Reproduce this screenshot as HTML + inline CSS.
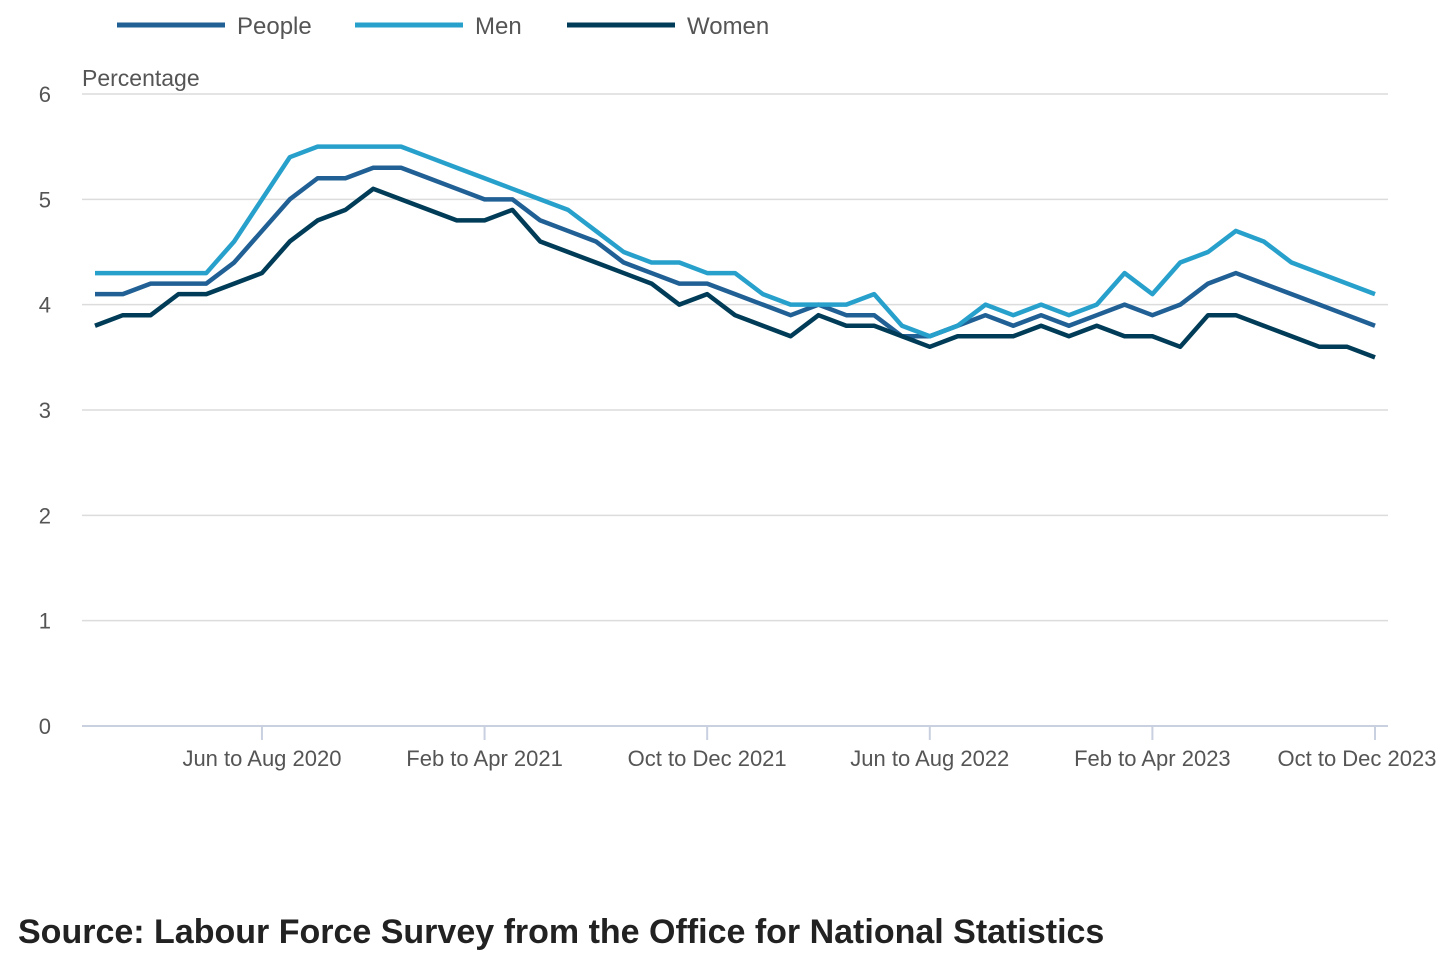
<!DOCTYPE html>
<html><head><meta charset="utf-8"><style>
body{margin:0;background:#fff;width:1456px;height:968px;overflow:hidden;font-family:"Liberation Sans",sans-serif}
#src{position:absolute;left:18px;top:913px;font-size:34px;font-weight:bold;color:#222}
</style></head><body>
<svg id="chart" width="1456" height="900" style="position:absolute;left:0;top:0" font-family="Liberation Sans, sans-serif"></svg>
<div id="src">Source: Labour Force Survey from the Office for National Statistics</div>
<script>
const people=[4.1,4.1,4.2,4.2,4.2,4.4,4.7,5.0,5.2,5.2,5.3,5.3,5.2,5.1,5.0,5.0,4.8,4.7,4.6,4.4,4.3,4.2,4.2,4.1,4.0,3.9,4.0,3.9,3.9,3.7,3.7,3.8,3.9,3.8,3.9,3.8,3.9,4.0,3.9,4.0,4.2,4.3,4.2,4.1,4.0,3.9,3.8];
const men=[4.3,4.3,4.3,4.3,4.3,4.6,5.0,5.4,5.5,5.5,5.5,5.5,5.4,5.3,5.2,5.1,5.0,4.9,4.7,4.5,4.4,4.4,4.3,4.3,4.1,4.0,4.0,4.0,4.1,3.8,3.7,3.8,4.0,3.9,4.0,3.9,4.0,4.3,4.1,4.4,4.5,4.7,4.6,4.4,4.3,4.2,4.1];
const women=[3.8,3.9,3.9,4.1,4.1,4.2,4.3,4.6,4.8,4.9,5.1,5.0,4.9,4.8,4.8,4.9,4.6,4.5,4.4,4.3,4.2,4.0,4.1,3.9,3.8,3.7,3.9,3.8,3.8,3.7,3.6,3.7,3.7,3.7,3.8,3.7,3.8,3.7,3.7,3.6,3.9,3.9,3.8,3.7,3.6,3.6,3.5];
const yTicks=[0,1,2,3,4,5,6];
const xTickIdx=[6,14,22,30,38,46];
const xTickLabels=["Jun to Aug 2020","Feb to Apr 2021","Oct to Dec 2021","Jun to Aug 2022","Feb to Apr 2023","Oct to Dec 2023"];
const ns="http://www.w3.org/2000/svg",svg=document.getElementById('chart');
const x=i=>95+i*(1375-95)/(people.length-1);
const y=v=>726-v*(726-94)/6;
function mk(t,a,p){const e=document.createElementNS(ns,t);for(const k in a)e.setAttribute(k,a[k]);(p||svg).appendChild(e);return e;}
yTicks.forEach(v=>{
 const l=mk('line',{x1:82,x2:1388,y1:y(v),y2:y(v),stroke:v===0?'#c9d0e0':'#dcdcdc','stroke-width':v===0?2:1.5});
 
 const t=mk('text',{x:51,y:y(v)+8,'text-anchor':'end','font-size':22,fill:'#555'});t.textContent=v;
 
});
const yt=mk('text',{x:82,y:86,'font-size':23,fill:'#555'});yt.textContent='Percentage';

xTickIdx.forEach((i,k)=>{
 const l=mk('line',{x1:x(i),x2:x(i),y1:726,y2:740,stroke:'#c9d0e0','stroke-width':2});
 
 const t=mk('text',{x:x(i),y:766,'text-anchor':'middle','font-size':22,fill:'#555'});t.textContent=xTickLabels[k];
 if(k===5)t.setAttribute('x',x(i)-18);
 
});
const series=[["people",people,"#206095"],["men",men,"#27a0cc"],["women",women,"#003c57"]];
series.forEach(([n,d,c])=>{
 const p=mk('polyline',{points:d.map((v,i)=>x(i)+','+y(v)).join(' '),fill:'none',stroke:c,'stroke-width':4.5,'stroke-linejoin':'round'});
 
});
const leg=[["People",117,"#206095"],["Men",355,"#27a0cc"],["Women",567,"#003c57"]];
leg.forEach(([n,lx,c])=>{
 const g=mk('g',{});
 mk('line',{x1:lx,x2:lx+108,y1:25,y2:25,stroke:c,'stroke-width':5},g);
 const t=mk('text',{x:lx+120,y:34,'font-size':24,fill:'#555'},g);t.textContent=n;
});
</script>
</body></html>
